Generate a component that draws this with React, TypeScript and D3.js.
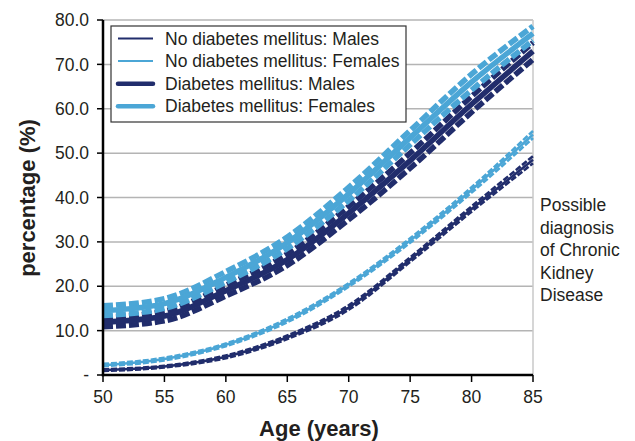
import React from "react";
import * as d3 from "d3";

const ages = [50, 55, 60, 65, 70, 75, 80, 85];

const noDmMaleMid = [1.1, 1.9, 4.1, 8.5, 15.2, 26.0, 37.4, 48.5];
const noDmMaleUp = [1.3, 2.1, 4.4, 8.9, 15.7, 26.5, 38.0, 49.3];
const noDmMaleLo = [0.9, 1.7, 3.8, 8.1, 14.7, 25.5, 36.8, 47.7];

const noDmFemMid = [2.2, 3.6, 6.8, 12.3, 20.3, 30.3, 41.7, 54.2];
const noDmFemUp = [2.5, 3.9, 7.1, 12.7, 20.7, 30.8, 42.3, 55.0];
const noDmFemLo = [2.0, 3.3, 6.5, 11.9, 19.9, 29.8, 41.1, 53.4];

const dmMaleMid = [11.9, 13.3, 19.0, 26.0, 36.5, 48.3, 61.0, 73.0];
const dmMaleUp = [12.9, 14.4, 20.2, 27.3, 38.0, 50.0, 62.8, 74.9];
const dmMaleLo = [10.9, 12.2, 17.8, 24.7, 35.0, 46.6, 59.2, 71.1];

const dmFemMid = [14.5, 16.1, 22.0, 29.8, 40.8, 53.5, 66.0, 77.0];
const dmFemUp = [15.6, 17.2, 23.3, 31.1, 42.3, 55.1, 67.8, 78.6];
const dmFemLo = [13.4, 15.0, 20.9, 28.5, 39.3, 51.9, 64.2, 75.4];

const yTicks = [0, 10, 20, 30, 40, 50, 60, 70, 80];
const xTicks = [50, 55, 60, 65, 70, 75, 80, 85];
const legendLabels = [
  "No diabetes mellitus: Males",
  "No diabetes mellitus: Females",
  "Diabetes mellitus: Males",
  "Diabetes mellitus: Females",
];
const noteLines = ["Possible", "diagnosis", "of Chronic", "Kidney", "Disease"];

const NAVY = "#212d6c";
const LIGHT = "#4ba6d6";
const TEXT = "#231f20";
const FONT = "'Liberation Sans', Arial, Helvetica, sans-serif";

export default function App() {
  const W = 635, H = 441;
  const left = 103, right = 533, top = 20, bottom = 375;
  const x = d3.scaleLinear().domain([50, 85]).range([left, right]);
  const y = d3.scaleLinear().domain([0, 80]).range([bottom, top]);
  const line = d3
    .line<number>()
    .x((_, i) => x(ages[i]))
    .y((v) => y(v))
    .curve(d3.curveMonotoneX);

  const series = [
    { mid: noDmMaleMid, up: noDmMaleUp, lo: noDmMaleLo, color: NAVY, w: 2.6, dash: "6,2" },
    { mid: noDmFemMid, up: noDmFemUp, lo: noDmFemLo, color: LIGHT, w: 2.6, dash: "6,2" },
    { mid: dmMaleMid, up: dmMaleUp, lo: dmMaleLo, color: NAVY, w: 5.5, dash: "10,3" },
    { mid: dmFemMid, up: dmFemUp, lo: dmFemLo, color: LIGHT, w: 5.5, dash: "10,3" },
  ];

  return (
    <svg width={W} height={H} style={{ position: "absolute", left: 0, top: 0, background: "#fff" }} fontFamily={FONT}>
      <rect x={0} y={0} width={W} height={H} fill="#fff" />
      {yTicks.filter((t) => t > 0).map((t) => (
        <line key={t} x1={left} x2={right} y1={y(t)} y2={y(t)} stroke="#b4b4b4" strokeWidth={1.5} />
      ))}
      <line x1={right} x2={right} y1={top} y2={bottom} stroke="#c8c8c8" strokeWidth={1.5} />

      {series.map((s, i) => (
        <g key={i}>
          <path d={line(s.up) || ""} fill="none" stroke={s.color} strokeWidth={s.w} strokeDasharray={s.dash} />
          <path d={line(s.lo) || ""} fill="none" stroke={s.color} strokeWidth={s.w} strokeDasharray={s.dash} />
          <path d={line(s.mid) || ""} fill="none" stroke={s.color} strokeWidth={s.w} />
        </g>
      ))}

      <line x1={left} x2={left} y1={top} y2={bottom + 1.2} stroke="#000" strokeWidth={2.5} />
      <line x1={left - 1.2} x2={right} y1={bottom} y2={bottom} stroke="#000" strokeWidth={2.5} />
      {yTicks.map((t) => (
        <g key={t}>
          <line x1={left - 6} x2={left} y1={y(t)} y2={y(t)} stroke="#000" strokeWidth={1.5} />
          <text x={89} y={y(t)} dy="0.35em" textAnchor="end" fontSize={17.5} fill={TEXT}>
            {t === 0 ? "-" : t.toFixed(1)}
          </text>
        </g>
      ))}
      {xTicks.map((t) => (
        <g key={t}>
          <line x1={x(t)} x2={x(t)} y1={bottom} y2={bottom + 7} stroke="#000" strokeWidth={1.5} />
          <text x={x(t)} y={403} textAnchor="middle" fontSize={17.5} fill={TEXT}>
            {t}
          </text>
        </g>
      ))}

      <text x={319} y={436} textAnchor="middle" fontSize={22} fontWeight="bold" fill={TEXT}>
        Age (years)
      </text>
      <text
        transform={`translate(35,198) rotate(-90)`}
        textAnchor="middle"
        fontSize={22}
        fontWeight="bold"
        fill={TEXT}
      >
        percentage (%)
      </text>

      <rect x={111} y={26} width={295} height={96} fill="#fff" stroke="#333" strokeWidth={1.2} />
      {legendLabels.map((lab, i) => {
        const ly = 38.5 + i * 22.6;
        const thick = i >= 2;
        return (
          <g key={lab}>
            <line
              x1={118}
              x2={153}
              y1={ly}
              y2={ly}
              stroke={i % 2 === 0 ? NAVY : LIGHT}
              strokeWidth={thick ? 4.5 : 2}
              strokeLinecap={thick ? "round" : "butt"}
            />
            <text x={165} y={ly} dy="0.35em" fontSize={17.5} fill={TEXT}>
              {lab}
            </text>
          </g>
        );
      })}

      {noteLines.map((l, i) => (
        <text key={l} x={540} y={211 + i * 22.5} fontSize={17.5} fill={TEXT}>
          {l}
        </text>
      ))}
    </svg>
  );
}
